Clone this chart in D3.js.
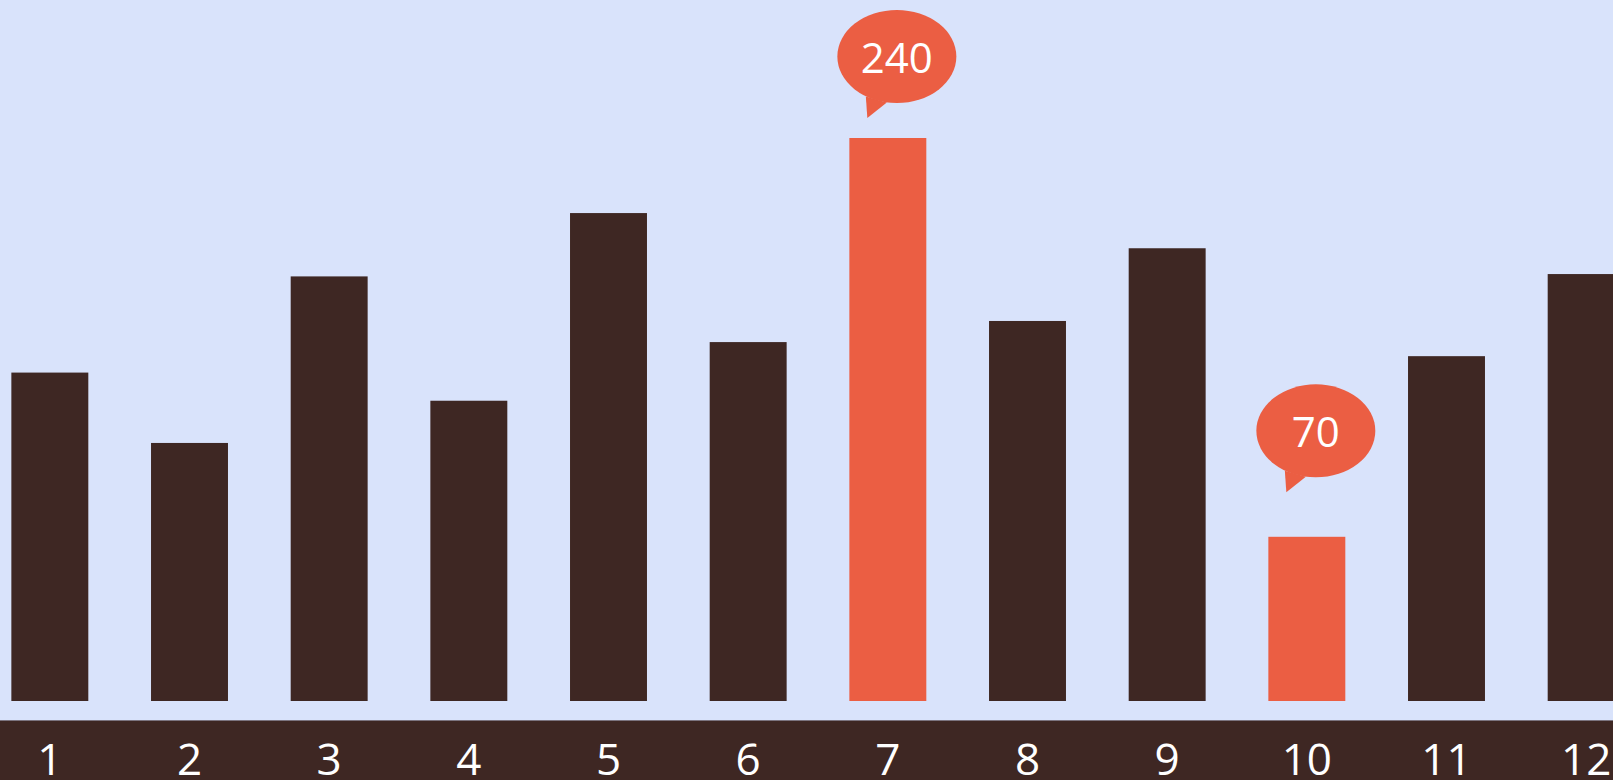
<!DOCTYPE html>
<html>
<head>
<meta charset="utf-8">
<script src="https://cdn.jsdelivr.net/npm/d3@7"></script>
<style>
  html, body { margin: 0; padding: 0; background: #d9e3fb; overflow: hidden; }
</style>
</head>
<body>
<div id="vis"></div>
<script>
// data
const months = ['1', '2', '3', '4', '5', '6', '7', '8', '9', '10', '11', '12'];
const values = [140, 110, 181, 128, 208, 153, 240, 162, 193, 70, 147, 182];
const highlighted = ['7', '10'];

const width = 1613, height = 780;

let svg = d3.select('#vis')
    .append('svg')
    .attr('width', width)
    .attr('height', height);

svg.append('rect')
    .attr('width', width)
    .attr('height', height)
    .attr('fill', '#d9e3fb');

let x = d3.scaleBand()
    .domain(months)
    .range([-20, 1656])
    .paddingInner(0.449)
    .paddingOuter(0.2245);

let y = d3.scaleLinear()
    .domain([0, 240])
    .range([701, 138]);

// bubbles sit on their own scale, a bit compressed
let yPin = d3.scaleLinear()
    .domain([0, 240])
    .range([585, 56.5]);

let data = months.map((m, i) => ({ month: m, value: values[i] }));

// bars
svg.selectAll('.bar')
    .data(data)
    .enter()
    .append('rect')
    .attr('class', 'bar')
    .attr('x', d => x(d.month))
    .attr('y', d => y(d.value))
    .attr('width', x.bandwidth())
    .attr('height', d => y(0) - y(d.value))
    .attr('fill', d => highlighted.includes(d.month) ? '#eb5e43' : '#3e2723');

// bottom band with month labels
svg.append('rect')
    .attr('x', 0)
    .attr('y', 720)
    .attr('width', width)
    .attr('height', 60)
    .attr('fill', '#3e2723');

svg.append('line')
    .attr('x1', 0)
    .attr('x2', width)
    .attr('y1', 720.5)
    .attr('y2', 720.5)
    .attr('stroke', '#7c7580')
    .attr('stroke-width', 1);

let axis = svg.append('g')
    .attr('transform', 'translate(0,720)')
    .call(d3.axisBottom(x).tickSize(0).tickPadding(24));

axis.select('.domain').remove();
axis.selectAll('text')
    .attr('fill', '#ffffff')
    .style('font-family', '"Open Sans", sans-serif')
    .style('font-size', '44px');

// speech bubbles on highlighted bars
let pins = svg.selectAll('.pin')
    .data(data.filter(d => highlighted.includes(d.month)))
    .enter()
    .append('g')
    .attr('class', 'pin')
    .attr('transform', d => `translate(${x(d.month) + x.bandwidth() / 2 + 9},${yPin(d.value)})`);

pins.append('path')
    .attr('d', 'M-31,40 L-29.5,61.5 L-10,46 Z')
    .attr('fill', '#eb5e43');

pins.append('ellipse')
    .attr('rx', 59.5)
    .attr('ry', 46.5)
    .attr('fill', '#eb5e43');

pins.append('text')
    .attr('text-anchor', 'middle')
    .attr('y', 16)
    .attr('fill', '#ffffff')
    .style('font-family', '"Open Sans", sans-serif')
    .style('font-size', '42px')
    .text(d => d.value);
</script>
</body>
</html>
